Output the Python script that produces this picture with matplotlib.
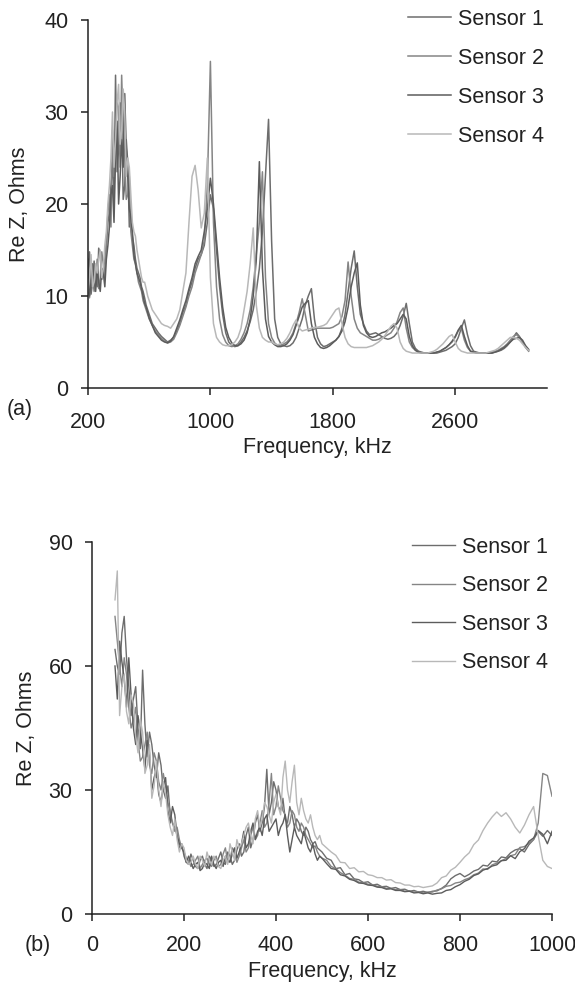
import numpy as np
import matplotlib
matplotlib.use("Agg")
import matplotlib.pyplot as plt

plt.rcParams['font.family'] = ['Liberation Sans', 'DejaVu Sans']

# ---------------- Panel (a): 200-590 kHz step 10, then 600-3080 kHz step 20 ----------------
freq_a = list(range(200, 600, 10)) + list(range(600, 3081, 20))

a_sensor1 = [
    12.5, 14.8, 10.2, 11.5, 13.8, 12.0, 11.0, 15.2, 14.5, 11.8,
    12.8, 14.0, 15.5, 18.0, 19.0, 22.0, 24.5, 20.0, 34.0, 23.5,
    26.0, 31.0, 29.5, 20.5, 22.0, 27.0, 24.5, 17.5, 19.0, 16.5,
    15.5, 14.0, 13.0, 12.5, 12.0, 11.0, 10.5, 9.8, 9.0, 8.5,
    8.0, 7.0, 6.5, 6.0, 5.6, 5.3, 5.0, 5.2, 5.5, 6.2,
    7.0, 8.2, 9.0, 10.5, 11.5, 13.0, 14.0, 14.5, 15.5, 18.0,
    21.0, 19.5, 15.0, 11.0, 8.0, 6.0, 5.0, 4.6, 4.5, 4.6,
    5.0, 5.5, 6.2, 7.2, 8.5, 10.5, 13.0, 17.0, 23.0, 29.2,
    16.0, 7.5, 5.5, 4.8, 4.6, 4.5, 4.6, 4.9, 5.5, 6.5,
    7.5, 9.0, 10.0, 10.8, 7.5, 5.5, 4.8, 4.5, 4.6, 4.8,
    5.0, 5.2, 5.6, 6.5, 8.0, 10.5, 13.0, 14.9, 11.0, 8.0,
    7.0, 6.2, 5.8, 5.9, 6.0, 5.8, 5.6, 5.4, 5.3, 5.4,
    5.6, 6.0, 6.8, 7.8, 9.2, 7.0, 5.0, 4.3, 4.0, 3.9,
    3.8, 3.8, 3.8, 3.8, 3.8, 3.9, 4.0, 4.1, 4.3, 4.5,
    4.8, 5.5, 6.5, 7.4, 5.8, 4.6, 4.0, 3.9, 3.8, 3.8,
    3.8, 3.8, 3.8, 3.9, 4.0, 4.1, 4.3, 4.6, 5.0, 5.5,
    6.0, 5.6, 5.0, 4.5, 4.1,
]
a_sensor2 = [
    11.5, 9.8, 13.0, 12.0, 10.5, 11.5, 14.0, 10.8, 12.0, 14.8,
    13.5, 12.0, 16.0, 19.0, 21.0, 17.5, 28.0, 23.0, 26.0, 31.0,
    30.5, 24.0, 34.0, 28.0, 25.0, 20.5, 21.0, 23.0, 17.0, 15.5,
    14.0, 13.5, 12.5, 11.5, 11.0, 10.5, 9.5, 9.0, 8.5, 8.0,
    7.5, 6.8, 6.2, 5.8, 5.4, 5.1, 4.9, 5.0, 5.3, 6.0,
    6.8, 7.8, 8.8, 10.0, 11.0, 12.5, 13.5, 14.5, 16.0, 22.0,
    35.5, 18.0, 11.0, 7.5, 5.8, 5.0, 4.6, 4.5, 4.6, 4.8,
    5.3, 6.0, 7.0, 8.5, 11.0, 14.5, 18.0, 23.5, 12.0, 7.0,
    5.5, 4.9, 4.6, 4.6, 4.8, 5.0, 5.4, 6.0, 7.0, 8.2,
    9.7, 8.0, 6.2, 6.3, 6.4, 6.5, 6.5, 6.5, 6.5, 6.5,
    6.6, 6.8, 7.0, 7.8, 9.5, 13.7, 10.0, 7.5, 6.5, 6.0,
    5.8, 5.6, 5.4, 5.2, 5.2, 5.3, 5.5, 5.6, 5.8, 6.0,
    6.5, 7.2, 8.2, 8.7, 6.5, 5.0, 4.4, 4.1, 3.9, 3.8,
    3.8, 3.8, 3.8, 3.8, 3.9, 4.0, 4.2, 4.4, 4.7, 5.0,
    5.5, 6.2, 6.5, 5.2, 4.4, 4.0, 3.9, 3.8, 3.8, 3.8,
    3.8, 3.8, 3.9, 4.0, 4.1, 4.3, 4.5, 4.8, 5.2, 5.6,
    5.8, 5.5, 5.0, 4.4, 4.0,
]
a_sensor3 = [
    14.0, 10.0, 11.5, 13.5, 12.0, 10.5, 13.0, 11.5, 10.5, 13.0,
    12.5, 11.0, 14.0, 15.5, 17.5, 21.0, 22.0, 18.0, 25.0, 29.0,
    20.0, 23.0, 27.0, 24.0, 32.0, 26.0, 23.0, 19.5, 18.5, 17.0,
    14.5, 13.5, 12.5, 12.0, 11.5, 10.8, 10.0, 9.2, 8.8, 8.2,
    7.6, 6.8, 6.0, 5.6, 5.2, 5.0, 4.9, 5.1, 5.6, 6.5,
    7.4, 8.5, 9.5, 10.8, 12.0, 13.5, 14.3, 15.0, 17.0, 19.5,
    22.8, 20.0, 16.0, 12.0, 8.8, 6.6, 5.5, 4.9, 4.6, 4.6,
    4.8, 5.2, 6.0, 7.5, 10.0, 14.0, 24.6, 13.0, 7.5, 5.6,
    5.0, 4.7, 4.5, 4.5, 4.6, 4.8, 5.2, 5.8, 6.8, 7.8,
    8.8, 9.2, 9.5, 7.0, 5.5, 4.8, 4.4, 4.3, 4.4, 4.6,
    4.9, 5.2, 5.6, 6.2, 7.2, 8.8, 11.0, 12.5, 13.6, 9.0,
    6.8, 6.0, 5.6, 5.5, 5.6, 5.8, 6.0, 6.1, 6.3, 6.5,
    6.8, 7.0, 7.5, 8.0, 7.5, 5.6, 4.6, 4.1, 3.9, 3.8,
    3.8, 3.8, 3.8, 3.8, 3.9, 4.0, 4.2, 4.4, 4.7, 5.1,
    5.6, 6.3, 6.8, 5.6, 4.6, 4.0, 3.9, 3.8, 3.8, 3.8,
    3.8, 3.8, 3.8, 3.9, 4.0, 4.2, 4.4, 4.7, 5.0, 5.3,
    5.4, 5.5, 5.2, 4.6, 4.2,
]
a_sensor4 = [
    10.5, 12.0, 14.5, 11.0, 11.5, 13.5, 12.5, 14.0, 15.0, 12.0,
    13.0, 15.5, 17.0, 20.0, 22.0, 25.0, 30.0, 24.0, 27.0, 31.0,
    33.0, 26.5, 28.0, 32.5, 30.0, 23.0, 25.0, 24.0, 21.0, 18.0,
    17.0, 16.5, 15.0, 14.0, 13.0, 12.0, 11.5, 11.5, 10.8, 10.0,
    9.5, 8.5, 8.0, 7.5, 7.0, 6.8, 6.7, 6.5, 7.0, 7.5,
    8.5, 10.5, 12.5, 18.0, 23.0, 24.2, 21.5, 17.4, 19.0, 25.0,
    12.0, 7.0, 5.5, 5.0, 4.7, 4.6, 4.6, 4.7, 5.0, 5.5,
    6.5, 8.5, 10.5, 13.5, 17.4, 9.0, 6.5, 5.5, 5.2, 5.0,
    5.0, 4.8, 4.7, 4.8, 5.0, 5.4, 6.0, 6.8, 7.4, 6.5,
    6.2, 6.3, 6.4, 6.5, 6.6, 6.6, 6.7, 6.8, 7.0, 7.5,
    8.0, 8.5, 8.7, 7.0, 5.5, 4.8, 4.5, 4.4, 4.4, 4.4,
    4.4, 4.4, 4.5, 4.6, 4.8, 5.0, 5.3, 5.7, 6.2, 6.7,
    7.0, 6.5, 5.0, 4.3, 4.0, 3.9, 3.8, 3.8, 3.8, 3.8,
    3.8, 3.8, 3.9, 4.0, 4.2, 4.5, 4.8, 5.2, 5.6, 5.8,
    5.0, 4.3, 4.0, 3.9, 3.8, 3.8, 3.8, 3.8, 3.8, 3.8,
    3.8, 3.9, 4.0, 4.1, 4.3, 4.6, 4.9, 5.2, 5.5, 5.5,
    5.4, 5.2, 4.8, 4.4, 4.1,
]

# ---------------- Panel (b): 50-495 kHz step 5, then 500-1000 kHz step 10 ----------------
freq_b = list(range(50, 500, 5)) + list(range(500, 1001, 10))

b_sensor1 = [
    64, 60, 58, 68, 72, 62, 55, 48, 52, 55,
    45, 40, 59, 46, 38, 44, 41, 36, 33, 39,
    36, 30, 28, 31, 24, 22, 21, 19, 16, 17,
    14, 12.5, 12, 14.5, 13, 11.5, 11, 13, 14, 12,
    11, 14, 13, 11.5, 12, 13.5, 15, 12.5, 12, 15,
    14, 12, 13, 15.5, 17, 14, 15, 19, 21, 16,
    18, 22, 24, 20, 22, 26, 35, 24, 27, 32,
    30, 26, 25, 28, 23, 22, 26, 24, 21, 23,
    22, 20, 19, 21, 20, 18, 17, 17.5, 16, 15.5,
    15, 13.5, 13, 11, 11.2, 9.5, 9.8, 8.5, 8.3, 7.6,
    7.8, 7.0, 7.2, 6.6, 6.7, 6.2, 6.4, 5.9, 6.0, 5.5,
    5.7, 5.3, 5.5, 5.2, 5.5, 5.6, 6.2, 7.0, 8.5, 9.3,
    9.8, 9.0, 9.6, 10.4, 10.8, 11.8, 11.6, 12.8, 12.6, 13.8,
    13.6, 14.8, 15.5, 15.8, 15.0, 16.8, 18.0, 20.0, 18.8, 20.2,
    19.0,
]
b_sensor2 = [
    72, 66, 60, 55, 62, 58, 50, 45, 47, 50,
    42, 37, 38, 41, 44, 36, 34, 39, 37, 32,
    30, 34, 31, 27, 25, 22, 20, 21, 18, 16,
    15, 13.5, 13, 11.5, 12, 13, 14, 11, 12, 13,
    13.5, 12, 11.5, 13, 14, 11.5, 12, 14.5, 16, 12.5,
    13, 16, 15, 12.5, 14, 16, 18, 15, 16, 19,
    21, 18, 19, 22, 25, 21, 22, 27, 34, 24,
    26, 31, 28, 25, 24, 21, 22, 25, 24, 21,
    20, 22, 21, 19, 18, 17, 16, 16.5, 15, 14,
    13.5, 13.0, 11.5, 11.0, 10.0, 9.4, 8.6, 8.4, 7.7, 7.6,
    7.2, 7.1, 6.7, 6.6, 6.2, 6.2, 5.9, 5.9, 5.5, 5.6,
    5.3, 5.4, 5.1, 5.3, 5.3, 5.8, 6.1, 6.7, 6.9, 7.5,
    7.7, 8.3, 8.7, 9.5, 9.9, 10.9, 10.8, 11.9, 12.3, 12.9,
    13.4, 14.1, 14.4, 16.1, 16.3, 17.2, 18.0, 22.0, 34.0, 33.5,
    28.5,
]
b_sensor3 = [
    60, 52, 66, 61, 57, 50, 62, 53, 45, 41,
    48, 44, 40, 35, 42, 39, 30, 33, 35, 29,
    27, 31, 33, 25, 22, 26, 24, 19, 17, 16,
    15, 12.5, 14, 12.5, 11, 12, 12.5, 10.5, 11, 12.5,
    12, 11, 14, 12, 11, 12.5, 13, 11.5, 14, 13,
    12.5, 14.5, 16, 13.5, 15, 17, 20, 16, 17, 20,
    22, 18, 20, 21, 19, 23, 24, 20, 21, 22,
    23, 19, 21, 22, 24, 19, 15, 18, 21, 19,
    18, 17, 20, 18, 16, 15, 17, 14.5, 13, 14,
    13.5, 12.2, 11.0, 10.8, 9.5, 9.2, 8.4, 8.1, 7.5, 7.4,
    7.0, 6.9, 6.5, 6.4, 6.0, 6.1, 5.7, 5.7, 5.4, 5.5,
    5.1, 5.2, 4.9, 5.1, 4.8, 5.0, 5.1, 5.7, 5.9, 6.6,
    7.1, 7.9, 8.4, 9.3, 9.7, 10.6, 11.0, 11.6, 11.9, 12.9,
    13.0, 14.1, 13.4, 15.1, 15.8, 17.6, 18.4, 20.2, 19.3, 17.0,
    20.0,
]
b_sensor4 = [
    76, 83, 48, 55, 58, 49, 46, 53, 51, 43,
    39, 47, 44, 34, 36, 41, 28, 31, 37, 30,
    26, 32, 29, 24, 21, 19, 23, 18, 15, 17,
    16, 13, 12, 12.5, 14, 12, 11, 14, 13, 11.5,
    15, 13, 12, 14, 13, 11.5, 11, 13, 14, 12,
    17, 15, 13, 18, 16, 17, 19, 21, 22, 19,
    17, 23, 25, 21, 23, 27, 26, 24, 22, 27,
    29, 26, 24, 33, 37, 30, 27, 32, 36, 27,
    24, 28, 25, 23, 22, 24, 21, 19, 18, 19,
    17.0, 16.0, 15.0, 14.2, 12.5, 12.4, 11.0, 11.2, 10.2, 10.3,
    9.5, 9.3, 8.8, 8.8, 8.2, 8.3, 7.6, 7.5, 7.0, 7.0,
    6.6, 6.7, 6.4, 6.6, 6.8, 7.5, 8.8, 9.2, 10.6, 11.3,
    12.5, 13.8, 14.8, 16.8, 17.9, 20.2, 22.0, 23.5, 24.7, 23.6,
    24.5, 23.0, 21.0, 19.6, 21.5, 24.0, 26.0, 19.0, 13.0, 11.5,
    11.0,
]

labels = ["Sensor 1", "Sensor 2", "Sensor 3", "Sensor 4"]
colors = ["#6d6d6d", "#858585", "#5c5c5c", "#b8b8b8"]

FS = 15.5
W, H = 575, 991
fig = plt.figure(figsize=(W / 100, H / 100), dpi=100)

def style(ax, xpad):
    for s in ("top", "right"):
        ax.spines[s].set_visible(False)
    for s in ("left", "bottom"):
        ax.spines[s].set_linewidth(1.1)
        ax.spines[s].set_color("#222222")
    ax.tick_params(axis="both", direction="out", length=5, width=1.1,
                   color="#222222", labelsize=FS, labelcolor="#222222")
    ax.tick_params(axis="x", pad=xpad)
    ax.tick_params(axis="y", pad=9)

# panel a
axa = fig.add_axes([88 / W, 1 - 388 / H, (547 - 88) / W, (388 - 20) / H])
for vals, lab, c in zip([a_sensor1, a_sensor2, a_sensor3, a_sensor4], labels, colors):
    axa.plot(freq_a, vals, color=c, lw=1.1, label=lab)
axa.set_xlim(200, 3200)
axa.set_ylim(0, 40)
axa.set_xticks([200, 1000, 1800, 2600])
axa.set_yticks([0, 10, 20, 30, 40])
style(axa, 12)
axa.legend(loc="upper left", bbox_to_anchor=(397 / W, 1 + 2 / H),
           bbox_transform=fig.transFigure, frameon=False, fontsize=FS,
           handlelength=2.0, handletextpad=0.35, labelspacing=0.84, borderpad=0,
           labelcolor="#222222")

# panel b
axb = fig.add_axes([92 / W, 1 - 914 / H, 460 / W, (914 - 542) / H])
for vals, lab, c in zip([b_sensor1, b_sensor2, b_sensor3, b_sensor4], labels, colors):
    axb.plot(freq_b, vals, color=c, lw=1.0, label=lab)
axb.set_xlim(0, 1000)
axb.set_ylim(0, 90)
axb.set_xticks([0, 200, 400, 600, 800, 1000])
axb.set_yticks([0, 30, 60, 90])
style(axb, 10)
axb.legend(loc="upper left", bbox_to_anchor=(401 / W, 1 - 526 / H),
           bbox_transform=fig.transFigure, frameon=False, fontsize=FS,
           handlelength=2.0, handletextpad=0.35, labelspacing=0.81, borderpad=0,
           labelcolor="#222222")

# axis titles and panel tags
fig.text(20 / W, 1 - 204 / H, "Re Z, Ohms", rotation=90, ha="center", va="center",
         fontsize=FS, color="#222222")
fig.text(317 / W, 1 - 447 / H, "Frequency, kHz", ha="center", va="center",
         fontsize=FS, color="#222222")
fig.text(20 / W, 1 - 410 / H, "(a)", ha="center", va="center", fontsize=FS, color="#222222")

fig.text(27 / W, 1 - 728 / H, "Re Z, Ohms", rotation=90, ha="center", va="center",
         fontsize=FS, color="#222222")
fig.text(322 / W, 1 - 971 / H, "Frequency, kHz", ha="center", va="center",
         fontsize=FS, color="#222222")
fig.text(38 / W, 1 - 945 / H, "(b)", ha="center", va="center", fontsize=FS, color="#222222")

fig.savefig("out.png", dpi=100)
